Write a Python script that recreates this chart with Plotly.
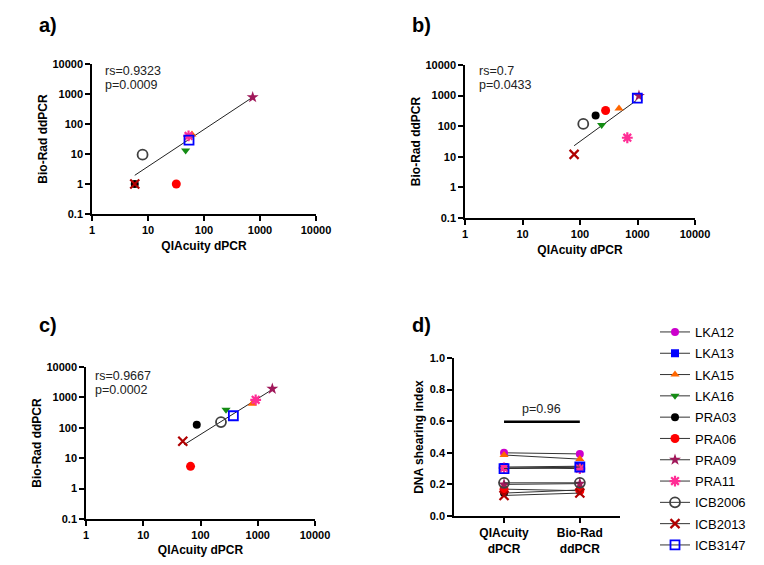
import plotly.graph_objects as go

# page is 764x565; the browser body has an 8px margin
OFF = 8
W, H = 764 - 2 * OFF, 565 - 2 * OFF
FONT = "Liberation Sans, Arial, sans-serif"

# ---------------- data ----------------
samples = ["LKA12", "LKA13", "LKA15", "LKA16", "PRA03", "PRA06",
           "PRA09", "PRA11", "ICB2006", "ICB2013", "ICB3147"]

# panel a (QIAcuity vs Bio-Rad)
a_qia = [None, None, 61, 47, 5.8, 32, 740, 53, 8, 5.8, 54]
a_bio = [None, None, 45, 13, 1, 1, 780, 40, 9.5, 1, 29]
a_fit_x = [5.8, 740]
a_fit_y = [1.95, 780]

# panel b
b_qia = [None, None, 477, 238, 187, 279, 1060, 665, 114, 79, 993]
b_bio = [None, None, 377, 110, 222, 326, 980, 42, 119, 12, 822]
b_fit_x = [79, 950]
b_fit_y = [23, 690]

# panel c
c_qia = [None, None, 804, 279, 86, 67, 1797, 920, 228, 49, 375]
c_bio = [None, None, 617, 392, 126, 5.4, 1915, 833, 154, 36, 249]
c_fit_x = [52, 1760]
c_fit_y = [28, 1780]

# panel d (DNA shearing index)
d_categories = ["QIAcuity<br>dPCR", "Bio-Rad<br>ddPCR"]
d_qia = [0.40, 0.31, 0.386, 0.30, 0.145, 0.17, 0.20, 0.305, 0.21, 0.13, 0.30]
d_bio = [0.393, 0.315, 0.36, 0.31, 0.165, 0.16, 0.205, 0.30, 0.21, 0.145, 0.31]
sig_y = 0.597
sig_text = "p=0.96"

stats = {
    "a": ("rs=0.9323", "p=0.0009"),
    "b": ("rs=0.7", "p=0.0433"),
    "c": ("rs=0.9667", "p=0.0002"),
}

# ---------------- styles ----------------
colors = ["#CC00CC", "#0000FF", "#FF6600", "#148C14", "#000000", "#FF0000",
          "#A0185A", "#FF2D95", "#404040", "#B00000", "#0000FF"]
symbols = ["circle", "square", "triangle-up", "triangle-down", "circle", "circle",
           "star", "asterisk-open", "circle-open", "x-thin-open", "square-open"]
sizes = [8, 8, 8, 8, 8, 9, 9, 9, 10, 9, 9]


def marker(i):
    s = symbols[i]
    if s in ("asterisk-open", "x-thin-open"):
        return dict(symbol=s, size=sizes[i], color=colors[i],
                    line=dict(color=colors[i], width=2.2))
    if s.endswith("-open"):
        return dict(symbol=s, size=sizes[i], color=colors[i],
                    line=dict(color=colors[i], width=1.8))
    return dict(symbol=s, size=sizes[i], color=colors[i],
                line=dict(width=0))


def px_x(x):
    return (x - OFF) / W


def px_y(y):
    return 1 - (y - OFF) / H


def dom_x(x0, x1):
    return [px_x(x0), px_x(x1)]


def dom_y(y0, y1):  # pixel top, pixel bottom
    return [px_y(y1), px_y(y0)]


fig = go.Figure()

panels = [
    ("a", "x", "y", a_qia, a_bio, a_fit_x, a_fit_y),
    ("b", "x2", "y2", b_qia, b_bio, b_fit_x, b_fit_y),
    ("c", "x3", "y3", c_qia, c_bio, c_fit_x, c_fit_y),
]

for name, xa, ya, xs, ys, fx, fy in panels:
    fig.add_trace(go.Scatter(x=fx, y=fy, mode="lines", xaxis=xa, yaxis=ya,
                             line=dict(color="#222222", width=1),
                             showlegend=False, hoverinfo="skip"))
    for i, s in enumerate(samples):
        if xs[i] is None:
            continue
        fig.add_trace(go.Scatter(x=[xs[i]], y=[ys[i]], mode="markers",
                                 xaxis=xa, yaxis=ya, marker=marker(i),
                                 name=s, showlegend=False))

# panel d
for i, s in enumerate(samples):
    fig.add_trace(go.Scatter(x=[0, 1], y=[d_qia[i], d_bio[i]], mode="lines+markers",
                             xaxis="x4", yaxis="y4", marker=marker(i),
                             line=dict(color="#333333", width=1),
                             name=s, legendgroup=s, showlegend=True))

fig.add_trace(go.Scatter(x=[0, 1], y=[sig_y, sig_y], mode="lines", xaxis="x4", yaxis="y4",
                         line=dict(color="#000000", width=2.5), showlegend=False,
                         hoverinfo="skip"))

tickfont = dict(family=FONT, size=11, color="#000000", weight="bold")
titlefont = dict(family=FONT, size=12, color="#000000", weight="bold")

log_x_vals = [1, 10, 100, 1000, 10000]
log_y_vals = [0.1, 1, 10, 100, 1000, 10000]


def logx(domain, anchor):
    return dict(type="log", range=[0, 4], domain=domain, anchor=anchor,
                tickvals=log_x_vals, ticktext=[str(v) for v in log_x_vals],
                showline=True, linecolor="#000000", linewidth=1.5,
                ticks="outside", ticklen=5, tickwidth=1.5, tickcolor="#000000",
                showgrid=False, zeroline=False, tickfont=tickfont,
                title=dict(text="QIAcuity dPCR", font=titlefont, standoff=7))


def logy(domain, anchor):
    return dict(type="log", range=[-1, 4], domain=domain, anchor=anchor,
                tickvals=log_y_vals, ticktext=["0.1", "1", "10", "100", "1000", "10000"],
                showline=True, linecolor="#000000", linewidth=1.5,
                ticks="outside", ticklen=5, tickwidth=1.5, tickcolor="#000000",
                showgrid=False, zeroline=False, tickfont=tickfont,
                title=dict(text="Bio-Rad ddPCR", font=titlefont, standoff=2))


fig.update_layout(
    width=W, height=H,
    margin=dict(l=0, r=0, t=0, b=0, autoexpand=False),
    paper_bgcolor="white", plot_bgcolor="white",
    font=dict(family=FONT, color="#000000"),
    xaxis=logx(dom_x(92, 316), "y"),
    yaxis=logy(dom_y(64, 214), "x"),
    xaxis2=logx(dom_x(465, 695), "y2"),
    yaxis2=logy(dom_y(65, 218), "x2"),
    xaxis3=logx(dom_x(86, 315), "y3"),
    yaxis3=logy(dom_y(367, 519), "x3"),
    xaxis4=dict(domain=dom_x(454, 620), anchor="y4", range=[-0.66, 1.53],
                tickvals=[0, 1], ticktext=d_categories,
                showline=True, linecolor="#000000", linewidth=1.5,
                ticks="outside", ticklen=5, tickwidth=1.5, tickcolor="#000000",
                showgrid=False, zeroline=False,
                tickfont=dict(family=FONT, size=12, color="#000000", weight="bold")),
    yaxis4=dict(domain=dom_y(358, 516), anchor="x4", range=[0, 1], dtick=0.2,
                tickformat=".1f",
                showline=True, linecolor="#000000", linewidth=1.5,
                ticks="outside", ticklen=5, tickwidth=1.5, tickcolor="#000000",
                showgrid=False, zeroline=False, tickfont=tickfont,
                title=dict(text="DNA shearing index", font=titlefont, standoff=4)),
    legend=dict(x=px_x(655), y=px_y(317), xanchor="left", yanchor="top",
                font=dict(family=FONT, size=13, color="#000000"),
                traceorder="grouped", tracegroupgap=1.4,
                bgcolor="rgba(0,0,0,0)", borderwidth=0),
)

annotations = []
# panel labels
for lab, px, py in [("a)", 37, 25), ("b)", 410, 25), ("c)", 37, 325), ("d)", 410, 325)]:
    annotations.append(dict(text=lab, x=px_x(px), y=px_y(py), xref="paper", yref="paper",
                            xanchor="left", yanchor="middle", showarrow=False,
                            font=dict(family=FONT, size=20, color="#000000", weight="bold")))
# statistics text
for key, px, py1, py2 in [("a", 103, 71, 85), ("b", 477, 71, 85), ("c", 93, 376, 390)]:
    rs, p = stats[key]
    annotations.append(dict(text=rs, x=px_x(px), y=px_y(py1), xref="paper", yref="paper",
                            xanchor="left", yanchor="middle", showarrow=False,
                            font=dict(family=FONT, size=12.5, color="#222222")))
    annotations.append(dict(text=p, x=px_x(px), y=px_y(py2), xref="paper", yref="paper",
                            xanchor="left", yanchor="middle", showarrow=False,
                            font=dict(family=FONT, size=12.5, color="#222222")))
annotations.append(dict(text=sig_text, x=0.5, y=0.677, xref="x4", yref="y4",
                        xanchor="center", yanchor="middle", showarrow=False,
                        font=dict(family=FONT, size=12.5, color="#222222")))
fig.update_layout(annotations=annotations)

fig.write_html("out.html")
